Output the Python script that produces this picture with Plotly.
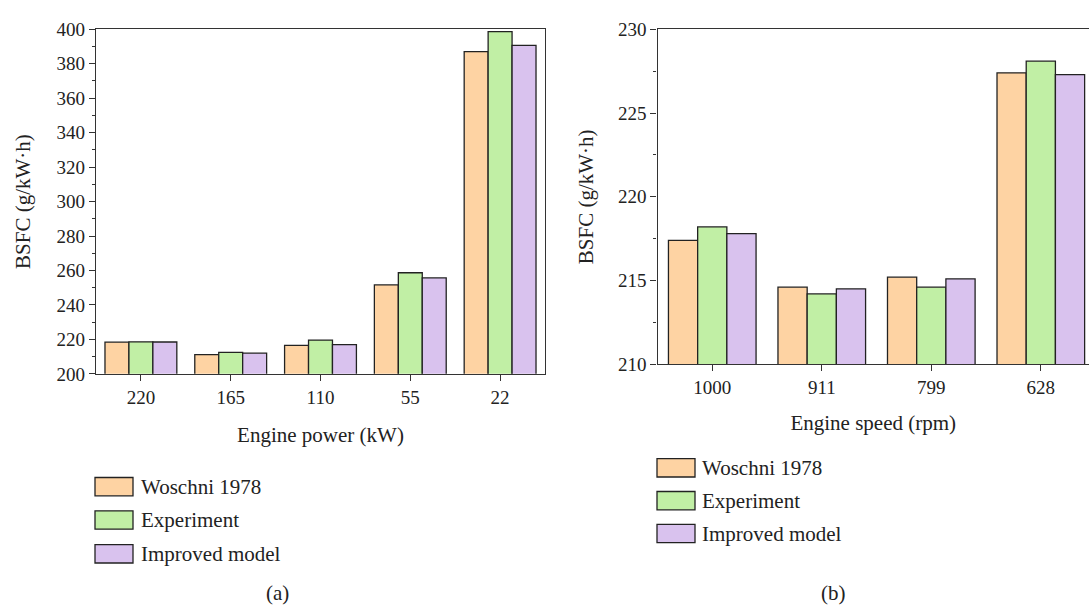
import plotly.graph_objects as go

# ---- data ----
series_names = ["Woschni 1978", "Experiment", "Improved model"]
series_colors = ["#FED3A3", "#C1EFA5", "#D9C2EE"]

power_labels = ["220", "165", "110", "55", "22"]
power_woschni = [218.4, 211.2, 216.5, 251.6, 387.0]
power_experiment = [218.6, 212.5, 219.6, 258.7, 398.7]
power_improved = [218.5, 212.0, 217.0, 255.7, 390.7]

speed_labels = ["1000", "911", "799", "628"]
speed_woschni = [217.4, 214.6, 215.2, 227.4]
speed_experiment = [218.2, 214.2, 214.6, 228.1]
speed_improved = [217.8, 214.5, 215.1, 227.3]

FONT = "Liberation Serif"
INK = "#222222"
TICK_SIZE = 19
TEXT_SIZE = 21

fig = go.Figure()

power_series = [power_woschni, power_experiment, power_improved]
speed_series = [speed_woschni, speed_experiment, speed_improved]

for name, color, vals in zip(series_names, series_colors, power_series):
    fig.add_trace(go.Bar(x=power_labels, y=vals, name=name, xaxis="x", yaxis="y",
                         marker=dict(color=color, line=dict(color=INK, width=1.3)),
                         showlegend=False))
for name, color, vals in zip(series_names, series_colors, speed_series):
    fig.add_trace(go.Bar(x=speed_labels, y=vals, name=name, xaxis="x2", yaxis="y2",
                         marker=dict(color=color, line=dict(color=INK, width=1.3)),
                         showlegend=False))

axis_common = dict(showline=True, linecolor="#333333", linewidth=1.3, ticks="outside",
                   tickcolor="#333333", tickwidth=1.2, showgrid=False, zeroline=False,
                   tickfont=dict(family=FONT, size=TICK_SIZE, color=INK),
                   title_font=dict(family=FONT, size=TEXT_SIZE, color=INK))

W, H = 1089, 616

fig.update_layout(
    width=W, height=H, margin=dict(l=0, r=0, t=0, b=0),
    paper_bgcolor="white", plot_bgcolor="white",
    barmode="group", bargap=0.2, bargroupgap=0,
    xaxis=dict(axis_common, type="category", domain=[96 / W, 545 / W], range=[-0.5, 4.5],
               anchor="y", mirror=True, ticklen=6,
               title=dict(text="Engine power (kW)", standoff=20)),
    yaxis=dict(axis_common, domain=[1 - 376.7 / H, 1 - 20 / H], range=[200, 400],
               anchor="x", mirror=True, dtick=20, ticklen=6,
               minor=dict(dtick=10, ticks="outside", ticklen=3, tickcolor="#333333"),
               title=dict(text="BSFC (g/kW·h)", standoff=20)),
    xaxis2=dict(axis_common, type="category", domain=[657.5 / W, 1.0], range=[-0.5, 3.44],
                anchor="y2", mirror=True, ticklen=6,
                title=dict(text="Engine speed (rpm)", standoff=18)),
    yaxis2=dict(axis_common, domain=[1 - 366.7 / H, 1 - 20 / H], range=[210, 230],
                anchor="x2", dtick=5, ticklen=6,
                minor=dict(dtick=2.5, ticks="outside", ticklen=3, tickcolor="#333333"),
                title=dict(text="BSFC (g/kW·h)", standoff=18)),
)

# legend blocks drawn as swatches + labels in paper pixels
def add_legend(x0, y_centers, text_x):
    for name, color, yc in zip(series_names, series_colors, y_centers):
        fig.add_shape(type="rect", xref="paper", yref="paper",
                      x0=x0 / W, x1=(x0 + 38) / W,
                      y0=1 - (yc + 9.5) / H, y1=1 - (yc - 9.5) / H,
                      fillcolor=color, line=dict(color=INK, width=1.3))
        fig.add_annotation(xref="paper", yref="paper", x=text_x / W, y=1 - yc / H,
                           text=name, showarrow=False, xanchor="left", yanchor="middle",
                           font=dict(family=FONT, size=TEXT_SIZE, color=INK))

add_legend(95, [493.5, 528, 563], 139)
add_legend(657, [474, 508, 542], 700)

for label, xc in [("(a)", 277), ("(b)", 833)]:
    fig.add_annotation(xref="paper", yref="paper", x=xc / W, y=1 - 604 / H, text=label,
                       showarrow=False, xanchor="center", yanchor="middle",
                       font=dict(family=FONT, size=TEXT_SIZE, color=INK))

fig.write_html("out.html")
